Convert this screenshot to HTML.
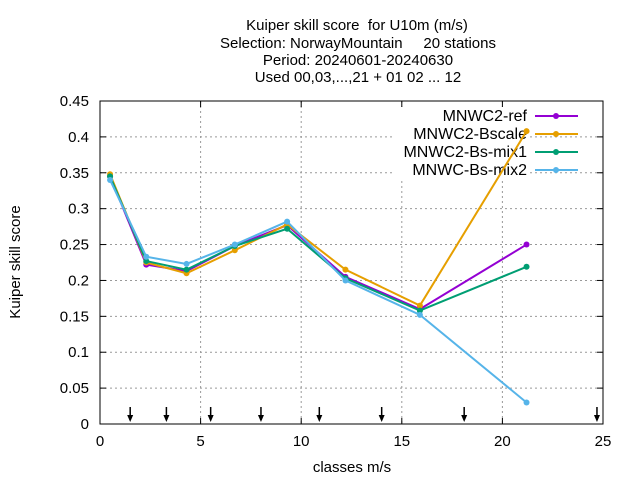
<!DOCTYPE html>
<html><head><meta charset="utf-8"><style>
body{margin:0;background:#fff}
svg text{font-family:"Liberation Sans",sans-serif;fill:#000;white-space:pre}
</style></head><body>
<svg id="chart" width="640" height="480">
<g font-size="15" text-anchor="middle">
<text x="357" y="30">Kuiper skill score  for U10m (m/s)</text>
<text x="358" y="48">Selection: NorwayMountain     20 stations</text>
<text x="358" y="65">Period: 20240601-20240630</text>
<text x="358" y="82">Used 00,03,...,21 + 01 02 ... 12</text>
</g>
<text font-size="15" text-anchor="middle" transform="translate(20,262) rotate(-90)">Kuiper skill score</text>
<text font-size="15" text-anchor="middle" x="352" y="472">classes m/s</text>
<g id="grid"></g><g id="axes"></g><g id="legend"></g><g id="series"></g>
<rect x="100" y="101" width="503" height="323" fill="none" stroke="#000"/>
</svg>
<script>
const xTicks=[0,5,10,15,20,25];
const yTicks=[0,0.05,0.1,0.15,0.2,0.25,0.3,0.35,0.4,0.45];
const yTickLabels=["0","0.05","0.1","0.15","0.2","0.25","0.3","0.35","0.4","0.45"];
const classX=[0.5,2.3,4.3,6.7,9.3,12.2,15.9,21.2];
const arrowX=[1.5,3.3,5.5,8.0,10.9,14.0,18.1,24.7];
const seriesNames=["MNWC2-ref","MNWC2-Bscale","MNWC2-Bs-mix1","MNWC-Bs-mix2"];
const refVals=[0.345,0.222,0.213,0.248,0.277,0.205,0.160,0.250];
const bscaleVals=[0.348,0.225,0.210,0.242,0.278,0.215,0.165,0.408];
const mix1Vals=[0.345,0.227,0.215,0.248,0.272,0.203,0.158,0.219];
const mix2Vals=[0.340,0.233,0.223,0.250,0.282,0.200,0.152,0.030];
const colors=["#9400d3","#e69f00","#009e73","#56b4e9"];
const NS="http://www.w3.org/2000/svg";
const X=v=>100+v*503/25, Y=v=>424-v*323/0.45;
function mk(t,a,p){const e=document.createElementNS(NS,t);for(const k in a)e.setAttribute(k,a[k]);p.appendChild(e);return e;}
const grid=document.getElementById('grid'),axes=document.getElementById('axes'),ser=document.getElementById('series'),leg=document.getElementById('legend');
xTicks.forEach(t=>{const x=X(t);
 if(t>0&&t<25){const g=mk('line',{x1:x,x2:x,y1:101,y2:424,stroke:'#999','stroke-dasharray':'2,3','stroke-width':1},grid);
 }
 const l=mk('text',{x:x,y:446,'font-size':15,'text-anchor':'middle'},axes);l.textContent=t;
 
 mk('line',{x1:x,x2:x,y1:424,y2:418,stroke:'#000'},axes);mk('line',{x1:x,x2:x,y1:101,y2:107,stroke:'#000'},axes);});
yTicks.forEach((t,i)=>{const y=Y(t);
 if(i>0&&i<yTicks.length-1){const g=mk('line',{x1:100,x2:603,y1:y,y2:y,stroke:'#999','stroke-dasharray':'2,3','stroke-width':1},grid);
 }
 const l=mk('text',{x:89,y:y+5,'font-size':15,'text-anchor':'end'},axes);l.textContent=yTickLabels[i];
 
 mk('line',{x1:100,x2:106,y1:y,y2:y,stroke:'#000'},axes);mk('line',{x1:603,x2:597,y1:y,y2:y,stroke:'#000'},axes);});
arrowX.forEach(a=>{const x=X(a);const g=mk('g',{},axes);
 
 mk('line',{x1:x,x2:x,y1:407,y2:420,stroke:'#000','stroke-width':1.5},g);
 mk('path',{d:`M${x-3},${415} L${x},${422} L${x+3},${415} Z`,fill:'#000'},g);});
const allVals=[refVals,bscaleVals,mix1Vals,mix2Vals];
allVals.forEach((vals,s)=>{const g=mk('g',{},ser);
 
 mk('polyline',{points:vals.map((v,i)=>X(classX[i])+','+Y(v)).join(' '),fill:'none',stroke:colors[s],'stroke-width':2},g);
 vals.forEach((v,i)=>{const c=mk('circle',{cx:X(classX[i]),cy:Y(v),r:3,fill:colors[s]},g);
 });
 const ly=116+s*18;const e=mk('g',{},leg);
 
 mk('rect',{x:395,y:ly-9,width:135,height:18,fill:'#fff'},e);
 const t=mk('text',{x:527,y:ly+5,'font-size':16,'text-anchor':'end'},e);t.textContent=seriesNames[s];
 mk('line',{x1:535,x2:578,y1:ly,y2:ly,stroke:colors[s],'stroke-width':2},e);
 mk('circle',{cx:556,cy:ly,r:3,fill:colors[s]},e);});
</script>
</body></html>
